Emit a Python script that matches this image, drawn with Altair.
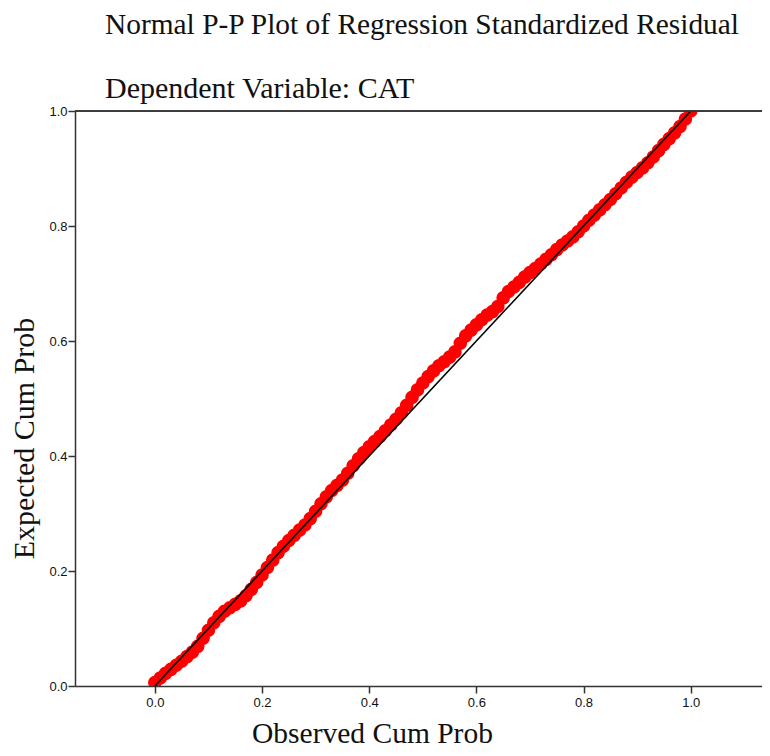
import altair as alt
import pandas as pd

observed = [0.00, 0.01, 0.02, 0.03, 0.04, 0.05, 0.06, 0.07, 0.08, 0.09,
            0.10, 0.11, 0.12, 0.13, 0.14, 0.15, 0.16, 0.17, 0.18, 0.19,
            0.20, 0.21, 0.22, 0.23, 0.24, 0.25, 0.26, 0.27, 0.28, 0.29,
            0.30, 0.31, 0.32, 0.33, 0.34, 0.35, 0.36, 0.37, 0.38, 0.39,
            0.40, 0.41, 0.42, 0.43, 0.44, 0.45, 0.46, 0.47, 0.48, 0.49,
            0.50, 0.51, 0.52, 0.53, 0.54, 0.55, 0.56, 0.57, 0.58, 0.59,
            0.60, 0.61, 0.62, 0.63, 0.64, 0.65, 0.66, 0.67, 0.68, 0.69,
            0.70, 0.71, 0.72, 0.73, 0.74, 0.75, 0.76, 0.77, 0.78, 0.79,
            0.80, 0.81, 0.82, 0.83, 0.84, 0.85, 0.86, 0.87, 0.88, 0.89,
            0.90, 0.91, 0.92, 0.93, 0.94, 0.95, 0.96, 0.97, 0.98, 0.99,
            1.00]
expected = [0.006, 0.014, 0.022, 0.029, 0.036, 0.043, 0.051, 0.059, 0.069, 0.083,
            0.097, 0.110, 0.121, 0.130, 0.136, 0.142, 0.148, 0.157, 0.168, 0.180,
            0.193, 0.206, 0.219, 0.232, 0.243, 0.253, 0.262, 0.271, 0.280, 0.291,
            0.304, 0.317, 0.329, 0.340, 0.349, 0.358, 0.370, 0.383, 0.395, 0.406,
            0.416, 0.425, 0.434, 0.444, 0.454, 0.464, 0.475, 0.488, 0.502, 0.515,
            0.527, 0.538, 0.548, 0.557, 0.564, 0.572, 0.581, 0.596, 0.609, 0.619,
            0.628, 0.637, 0.645, 0.651, 0.660, 0.675, 0.686, 0.694, 0.702, 0.711,
            0.719, 0.726, 0.734, 0.742, 0.750, 0.759, 0.767, 0.774, 0.781, 0.790,
            0.800, 0.810, 0.819, 0.828, 0.837, 0.846, 0.856, 0.866, 0.876, 0.885,
            0.893, 0.901, 0.910, 0.920, 0.931, 0.942, 0.952, 0.962, 0.973, 0.986,
            1.000]
ref_line = [0.0, 1.0]
tick_values = [0.0, 0.2, 0.4, 0.6, 0.8, 1.0]

pts = pd.DataFrame({"obs": observed, "exp": expected})
diag = pd.DataFrame({"obs": ref_line, "exp": ref_line})

SERIF = "Liberation Serif"
SANS = "Liberation Sans"

PLOT_W = 687
PLOT_H = 575

x_scale = alt.Scale(domain=[-0.149, 1.133], nice=False, zero=False)
y_scale = alt.Scale(domain=[0, 1], nice=False, zero=False)

x_axis = alt.Axis(values=tick_values, format=".1f", title="Observed Cum Prob",
                  grid=False, tickSize=7, labelPadding=3,
                  labelFont=SANS, labelFontSize=13, labelColor="#111",
                  domainColor="#333", tickColor="#333", domainWidth=1.5, tickWidth=1.5,
                  titleFont=SERIF, titleFontSize=29.5, titleFontWeight="normal",
                  titleColor="#111", titleX=297, titleY=56, titleBaseline="alphabetic",
                  titleAlign="center")
y_axis = alt.Axis(values=tick_values, format=".1f", title="Expected Cum Prob",
                  grid=False, tickSize=7, labelPadding=1,
                  labelFont=SANS, labelFontSize=13, labelColor="#111",
                  domainColor="#333", tickColor="#333", domainWidth=1.5, tickWidth=1.5,
                  titleFont=SERIF, titleFontSize=30, titleFontWeight="normal",
                  titleColor="#111", titleX=-42, titleY=327, titleAngle=-90,
                  titleBaseline="alphabetic", titleAlign="center")

points = alt.Chart(pts).mark_circle(color="#ff0000", opacity=1, size=185, clip=True).encode(
    x=alt.X("obs:Q", scale=x_scale, axis=x_axis),
    y=alt.Y("exp:Q", scale=y_scale, axis=y_axis),
)

line = alt.Chart(diag).mark_line(color="#000000", strokeWidth=1.6).encode(
    x=alt.X("obs:Q", scale=x_scale),
    y=alt.Y("exp:Q", scale=y_scale),
)

top_border = alt.Chart(diag).mark_rule(color="#333", strokeWidth=1.5).encode(
    x=alt.value(0), x2=alt.value(PLOT_W), y=alt.value(0)
)

chart = alt.layer(points, line, top_border).properties(
    width=PLOT_W,
    height=PLOT_H,
    autosize=alt.AutoSizeParams(type="none"),
    padding={"left": 67, "top": 103, "right": 0, "bottom": 62},
    title=alt.TitleParams(
        text="Normal P-P Plot of Regression Standardized Residual",
        subtitle="Dependent Variable: CAT",
        anchor="start", frame="group", dx=30, offset=0,
        font=SERIF, fontSize=29.4, fontWeight="normal", color="#111",
        subtitleFont=SERIF, subtitleFontSize=30, subtitleColor="#111",
        subtitlePadding=34,
    ),
).configure_view(stroke="#cccccc", strokeWidth=1)

chart.save("out.html", embed_options={"renderer": "svg", "actions": False})
